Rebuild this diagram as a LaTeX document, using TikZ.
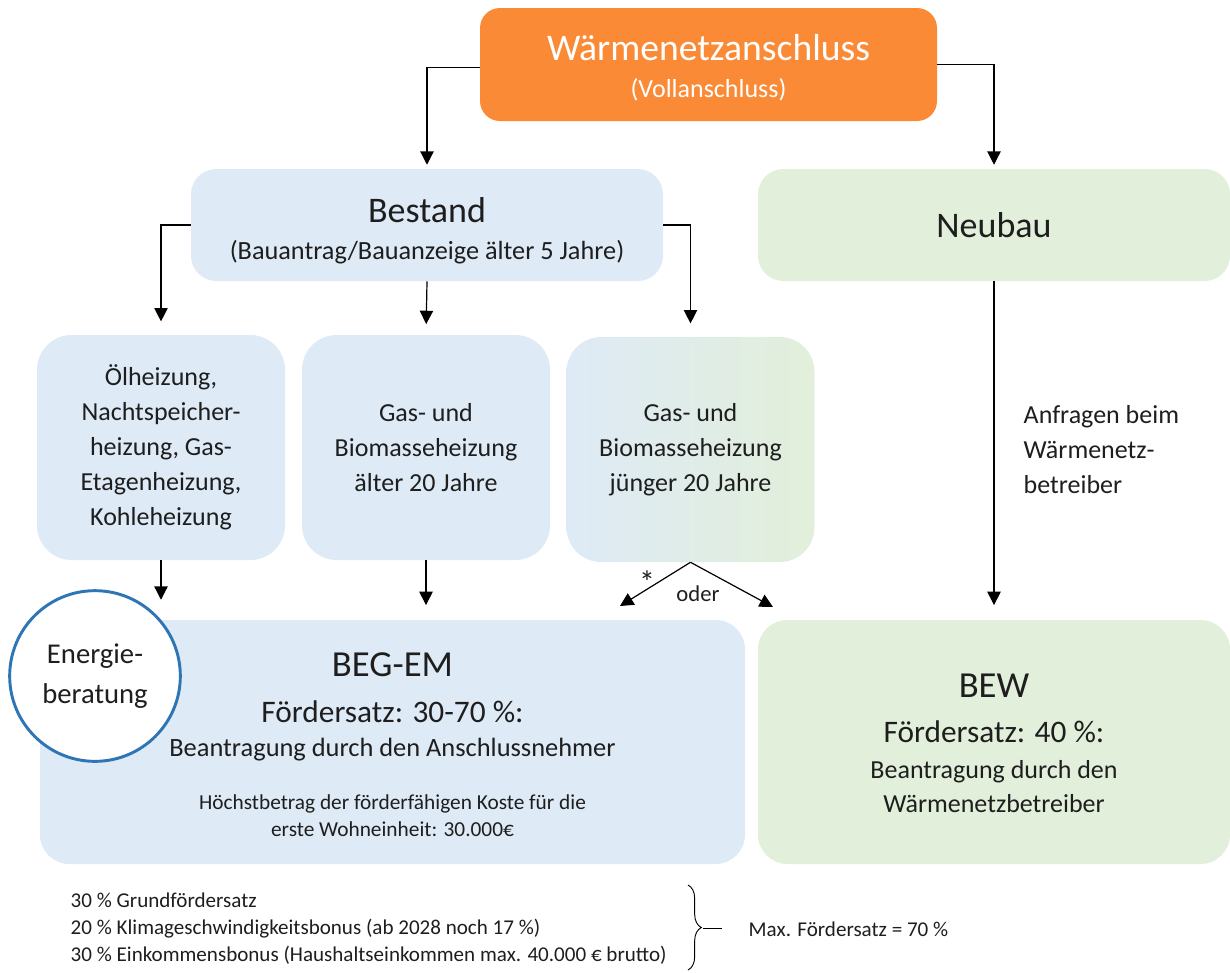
\documentclass[tikz,border=0pt]{standalone}
\usepackage{fontspec}
\setmainfont{Carlito}
\usepackage{xcolor}
\usetikzlibrary{arrows.meta,decorations.pathreplacing}

\definecolor{orangebox}{HTML}{FA8A35}
\definecolor{bluebox}{HTML}{DEEAF6}
\definecolor{greenbox}{HTML}{E2EFDA}
\definecolor{ringblue}{HTML}{2E75B6}
\definecolor{inktext}{HTML}{1E1E1E}

\newcommand{\fsz}[2]{\fontsize{#1}{#2}\selectfont}

\begin{document}
\begin{tikzpicture}[x=0.75pt,y=-0.75pt,
  every node/.style={text=inktext},
  arr/.style={draw=black,line width=0.9pt,-{Triangle[width=10pt,length=10pt]}},
  bigbox/.style={rounded corners=19pt,inner sep=0pt},
  smallbox/.style={rounded corners=26pt,inner sep=0pt,fill=bluebox,
    minimum width=186pt,minimum height=168.75pt,align=center,font=\fsz{19.5}{26.25}}]
\useasboundingbox (0,0) rectangle (1230,972);

% top
\node[bigbox,fill=orangebox,rounded corners=15pt,minimum width=342.75pt,minimum height=84.75pt] (top) at (708.5,64.5) {};
\node[text=white,font=\fsz{28.2}{30}] (toptitle) at (708.5,48) {Wärmenetzanschluss};
\node[text=white,font=\fsz{19.5}{22}] (topsub) at (708.5,90) {(Vollanschluss)};

% second row
\node[bigbox,fill=bluebox,minimum width=354pt,minimum height=84pt] (bestand) at (427,225) {};
\node[font=\fsz{27}{30}] (bestandtitle) at (427,210) {Bestand};
\node[font=\fsz{19.7}{22}] (bestandsub) at (427,252) {(Bauantrag/Bauanzeige älter 5 Jahre)};
\node[bigbox,fill=greenbox,minimum width=354pt,minimum height=84pt,font=\fsz{27}{30}] (neubau) at (994,225) {Neubau};

% heating types
\node[smallbox] (oel) at (161,447.5) {Ölheizung,\\Nachtspeicher-\\heizung, Gas-\\Etagenheizung,\\Kohleheizung};
\node[smallbox] (alt) at (426,447.5) {Gas- und\\Biomasseheizung\\älter 20 Jahre};
\node[smallbox,fill=none,left color=bluebox,right color=greenbox] (jung) at (690.5,449.5) {Gas- und\\Biomasseheizung\\jünger 20 Jahre};

% funding boxes
\node[bigbox,rounded corners=22pt,fill=bluebox,minimum width=528.75pt,minimum height=183pt] (begem) at (392.5,742) {};
\node[font=\fsz{27.5}{30}] (begtitle) at (392.5,665) {BEG-EM};
\node[font=\fsz{23.5}{26}] (begrate) at (392.5,712) {Fördersatz: 30-70 \%:};
\node[font=\fsz{19.8}{23}] (begapply) at (392.5,750) {Beantragung durch den Anschlussnehmer};
\node[font=\fsz{16}{20.25},align=center] (begmax) at (392.5,816) {Höchstbetrag der förderfähigen Koste für die\\erste Wohneinheit: 30.000€};

\node[bigbox,rounded corners=22pt,fill=greenbox,minimum width=354pt,minimum height=183pt] (bew) at (994,742) {};
\node[font=\fsz{27.5}{30}] (bewtitle) at (994,686) {BEW};
\node[font=\fsz{23.5}{26}] (bewrate) at (994,732) {Fördersatz: 40 \%:};
\node[font=\fsz{19.5}{25.5},align=center] (bewapply) at (994,787) {Beantragung durch den\\Wärmenetzbetreiber};

\node[circle,draw=ringblue,line width=2.2pt,fill=white,minimum size=128pt,inner sep=0pt,
  align=center,font=\fsz{21.5}{30}] (berat) at (95,676) {Energie-\\beratung};

% connectors
\draw[arr,shorten >=3pt] ([yshift=-2.5pt]top.west) -| (bestand.north);
\draw[arr,shorten >=3pt] (top.east) -| (neubau.north);
\draw[arr,shorten >=10pt] (bestand.west) -| (oel.north);
\draw[arr,shorten >=8pt] (bestand.south) -- (alt.north);
\draw[arr,shorten >=10pt] (bestand.east) -| (jung.north);
\draw[arr,shorten >=15pt] (oel.south) -- (oel.south |- begem.north);
\draw[arr,shorten >=11pt] (alt.south) -- (alt.south |- begem.north);
\coordinate (oderL) at (620,606);
\coordinate (oderR) at (773,607);
\draw[arr] (jung.south) -- (oderL);
\draw[arr] (jung.south) -- (oderR);
\node[font=\fsz{24}{26}] (star) at (647,582) {*};
\node[font=\fsz{17}{20}] (oder) at (698,594) {oder};
\draw[arr,shorten >=11pt] (neubau.south) -- (bew.north);
\node[font=\fsz{19.5}{26.25},align=left,anchor=west] (anfrage) at (1019,450) {Anfragen beim\\Wärmenetz-\\betreiber};

% bonus list
\node[font=\fsz{15.8}{20.25},align=left,anchor=west] (bonus) at (66,929) {30 \% Grundfördersatz\\20 \% Klimageschwindigkeitsbonus (ab 2028 noch 17 \%)\\30 \% Einkommensbonus (Haushaltseinkommen max. 40.000 € brutto)};
\draw[line width=0.7pt,decorate,decoration={brace,amplitude=10pt}] (688,885) -- (688,970);
\coordinate (bracetip) at (703,928);
\coordinate (braceend) at (722,928);
\draw[line width=0.7pt] (bracetip) -- (braceend);
\node[font=\fsz{15.8}{18},anchor=west] (maxrate) at (744,929) {Max. Fördersatz = 70 \%};
\end{tikzpicture}
\end{document}
